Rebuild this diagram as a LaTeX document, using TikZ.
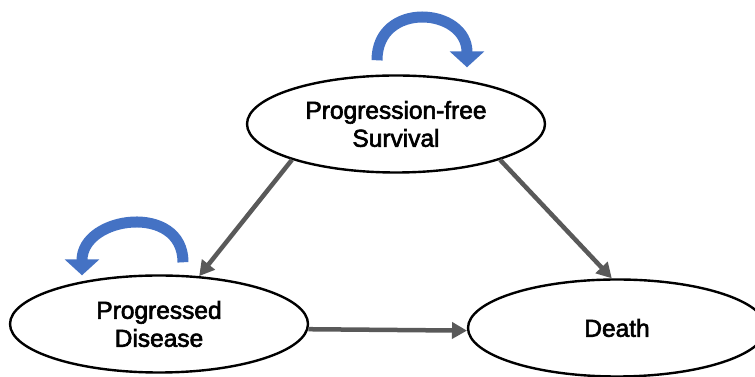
\documentclass[tikz,border=0pt]{standalone}
\usepackage{fontspec}
\setmainfont{Liberation Sans}[FakeBold=2.5]
\usetikzlibrary{arrows.meta, shapes.geometric}

\definecolor{loopblue}{RGB}{68,114,196}
\definecolor{flowgray}{RGB}{89,89,89}

\begin{document}
\begin{tikzpicture}[
    x=1pt, y=1pt,
    state/.style={ellipse, draw=black, line width=2.4pt, fill=white, minimum width=298pt, minimum height=97pt, inner sep=0pt, align=center, font=\fontsize{24.5}{28}\selectfont},
    arrow/.style={-{Triangle[length=15pt, width=16pt]}, line width=4.5pt, draw=flowgray},
    selfarrow/.style={-{Triangle[length=16pt, width=34pt]}, line width=11pt, draw=loopblue}
]
\useasboundingbox (0,0) rectangle (755,377);

% States
\node[state] (pfs) at (396,253) {Progression-free\\Survival};
\node[state] (pd) at (159,53) {Progressed\\Disease};
\node[state] (death) at (617,49) {Death};

% Transitions
\draw[arrow] (pfs.199) -- (pd.50);
\draw[arrow] (pfs.341) -- (death.96);
\draw[arrow] (pd.-2.3) -- (death.181);

% Staying in the same state
\draw[selfarrow] ([shift={(-19,14)}]pfs.north) to[out=90, in=90, looseness=1.7] ([shift={(71,7)}]pfs.north);
\draw[selfarrow] ([shift={(24,12)}]pd.north) to[out=90, in=90, looseness=1.5] ([shift={(-77,-1)}]pd.north);

\end{tikzpicture}
\end{document}
